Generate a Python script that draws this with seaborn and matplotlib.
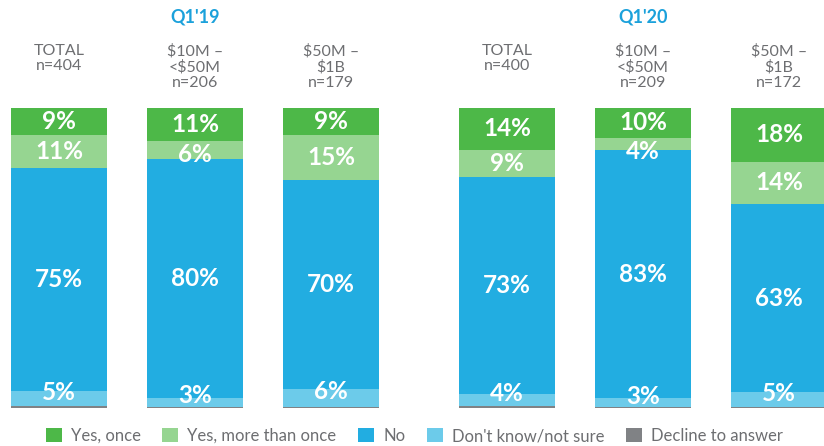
import numpy as np
import pandas as pd
import matplotlib
matplotlib.use("Agg")
import matplotlib.pyplot as plt
import matplotlib.transforms as mtransforms
from matplotlib.patches import Patch
import seaborn as sns

# ---------------- data ----------------
periods = ["Q1'19", "Q1'20"]
segments = ["TOTAL\nn=404", "$10M –\n<$50M\nn=206", "$50M –\n$1B\nn=179",
            "TOTAL\nn=400", "$10M –\n<$50M\nn=209", "$50M –\n$1B\nn=172"]
yes_once = [9, 11, 9, 14, 10, 18]
yes_more = [11, 6, 15, 9, 4, 14]
no_vals = [75, 80, 70, 73, 83, 63]
dont_know = [5, 3, 6, 4, 3, 5]
decline = [0.6, 0.5, 0.2, 0.6, 0.2, 0.2]
series_names = ["Yes, once", "Yes, more than once", "No", "Don't know/not sure", "Decline to answer"]

# ---------------- styling ----------------
colors = {
    "Yes, once": "#4db848",
    "Yes, more than once": "#96d591",
    "No": "#22ade1",
    "Don't know/not sure": "#6ccbea",
    "Decline to answer": "#808285",
}
FONT = ["Lato", "DejaVu Sans"]
sns.set_theme(style="white")
plt.rcParams["font.family"] = FONT

W, H = 824, 446
fig = plt.figure(figsize=(W / 100, H / 100), dpi=100)

# bar positions: 136px between bars in a group, 176px between groups
step = 136.0
gap = 176.0 / step
positions = np.array([0, 1, 2, 2 + gap, 3 + gap, 4 + gap])
bar_w = 96.0 / step

ax_top_px, ax_bot_px = 108, 408
ax = fig.add_axes([0, 1 - ax_bot_px / H, 1, (ax_bot_px - ax_top_px) / H])

# stack from bottom: decline, dont know, no, yes more, yes once
stack = np.array([decline, dont_know, no_vals, yes_more, yes_once], dtype=float)
totals = stack.sum(axis=0)
stack = stack / totals * 100.0
cum = np.cumsum(stack, axis=0)
order_names = ["Decline to answer", "Don't know/not sure", "No", "Yes, more than once", "Yes, once"]

for i in range(len(order_names) - 1, -1, -1):
    df = pd.DataFrame({"x": positions, "y": cum[i]})
    sns.barplot(data=df, x="x", y="y", native_scale=True, width=bar_w,
                color=colors[order_names[i]], saturation=1, linewidth=0,
                errorbar=None, ax=ax)

ax.set_xlim(-59 / step, (W - 59) / step)
ax.set_ylim(0, 100)
ax.set_axis_off()

# percentage labels
raw = [dont_know, no_vals, yes_more, yes_once]
for li, vals in enumerate(raw, start=1):
    for j, x in enumerate(positions):
        lo = cum[li - 1][j]
        hi = cum[li][j]
        yc = (lo + hi) / 2
        if li == 1:
            yc += 2.2
        else:
            yc = min(yc, hi - 4.4)
        ax.text(x, yc, f"{vals[j]}%", ha="center", va="center", color="white",
                fontsize=17.5, fontweight="bold", family=FONT)

# column headers
trans = mtransforms.blended_transform_factory(ax.transData, fig.transFigure)
for j, x in enumerate(positions):
    ax.text(x, 1 - 44 / H, segments[j], transform=trans, ha="center", va="top",
            color="#6d6e71", fontsize=11.5, linespacing=1.12, family=FONT)

for g, p in enumerate(periods):
    xc = positions[g * 3 + 1]
    ax.text(xc, 1 - 17 / H, p, transform=trans, ha="center", va="center",
            color="#1ba1db", fontsize=13, fontweight="bold", family=FONT)

# legend
handles = [Patch(facecolor=colors[n], edgecolor="none", label=n) for n in series_names]
leg = fig.legend(handles=handles, loc="center", bbox_to_anchor=(0.503, 1 - 436 / H),
                 ncol=5, frameon=False, fontsize=12, handlelength=0.95, handleheight=0.95,
                 handletextpad=0.55, columnspacing=1.3, borderaxespad=0)
for t in leg.get_texts():
    t.set_color("#6d6e71")

fig.savefig("out.png", dpi=100)
